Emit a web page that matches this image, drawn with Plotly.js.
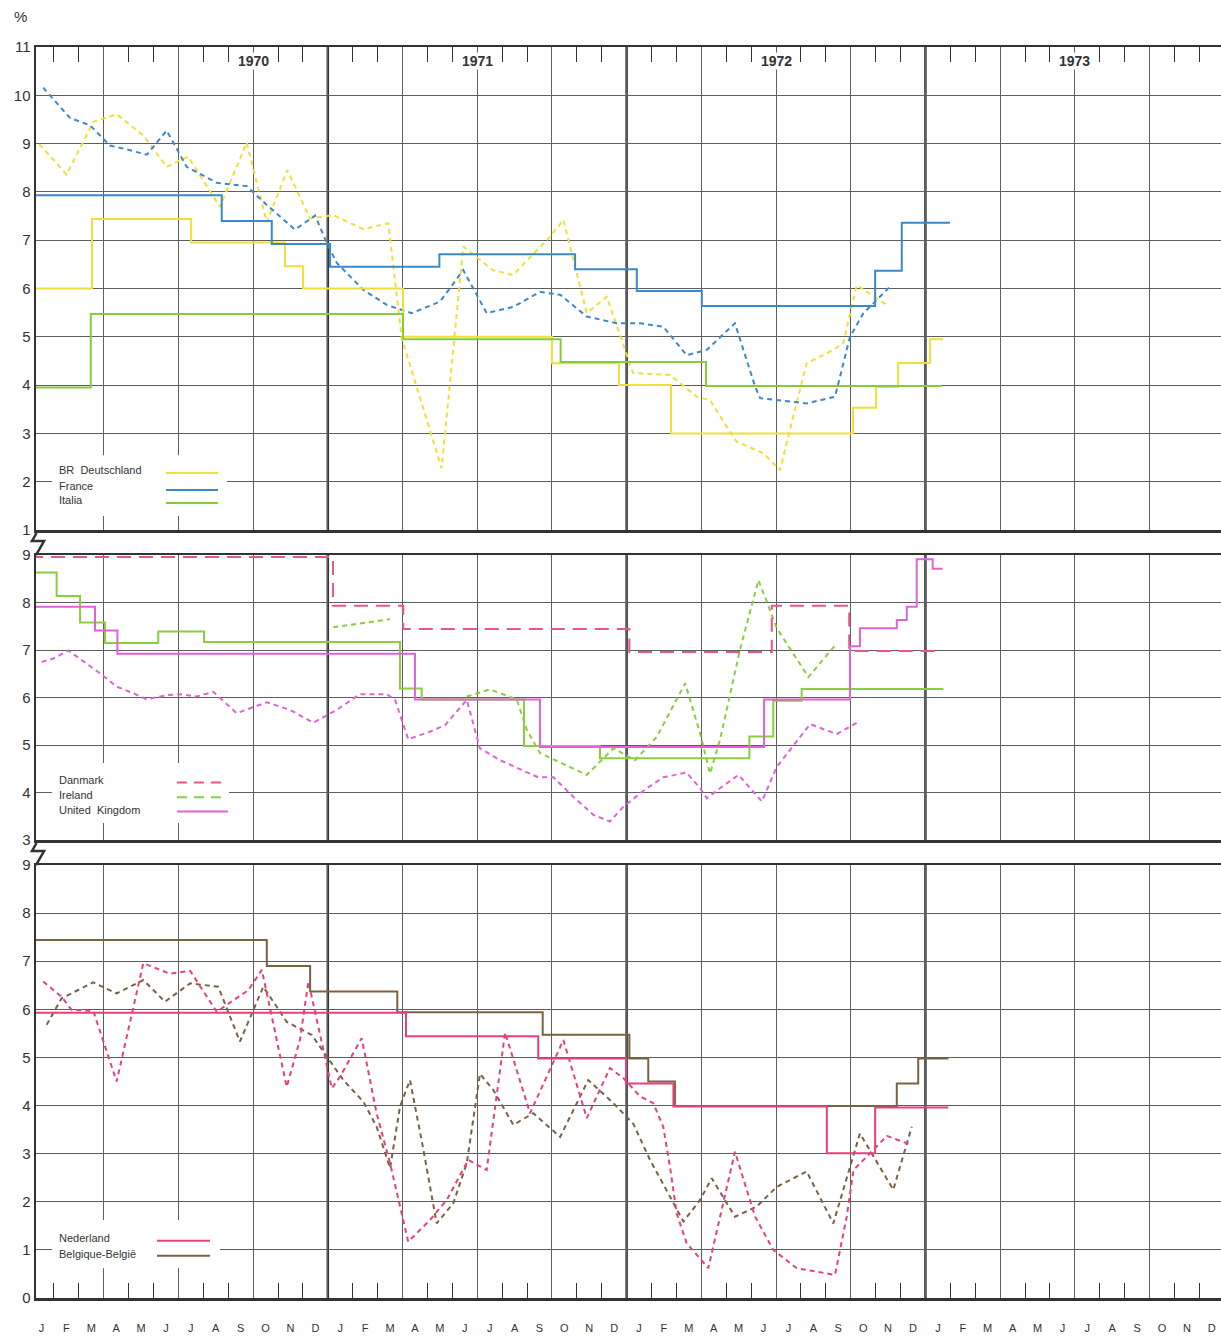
<!DOCTYPE html>
<html>
<head>
<meta charset="utf-8">
<script src="https://cdn.plot.ly/plotly-3.0.1.min.js"></script>
<style>html,body{margin:0;padding:0;background:#fff;}#chart{width:1221px;height:1337px;}</style>
</head>
<body>
<div id="chart"></div>
<script>
// ---------- DATA (x in months since Jan 1970, y in %) ----------
const monthLetters = ['J','F','M','A','M','J','J','A','S','O','N','D'];
const years = [1970, 1971, 1972, 1973];

// Panel 1: discount rates (steps)
const deDiscX = [0, 2.53, 6.51, 10.28, 11.0, 15.02, 21.0, 23.69, 25.78, 33.09, 34.02, 34.9, 36.18, 36.71];
const deDiscY = [6.0, 7.44, 6.95, 6.46, 6.0, 5.0, 4.45, 4.0, 3.0, 3.53, 3.96, 4.46, 4.95, 4.95];
const frDiscX = [0, 7.74, 9.75, 12.09, 16.48, 21.93, 24.41, 27.02, 33.98, 35.05, 36.99];
const frDiscY = [7.93, 7.40, 6.92, 6.45, 6.71, 6.40, 5.95, 5.64, 6.37, 7.36, 7.36];
const itDiscX = [0, 2.48, 15.02, 21.35, 27.19, 36.65];
const itDiscY = [3.95, 5.47, 4.95, 4.48, 3.98, 3.98];
// Panel 1: money market rates (dashed)
const deMktX = [0.41, 1.51, 2.58, 3.52, 4.59, 5.53, 6.39, 7.67, 8.74, 9.55, 10.37, 11.29, 12.21, 13.43, 14.43, 14.97, 16.57, 17.44, 18.63, 19.44, 20.92, 21.46, 22.4, 23.2, 24.26, 25.74, 26.82, 27.35, 28.02, 28.42, 29.49, 30.16, 30.69, 31.23, 32.3, 32.7, 33.24, 34.45];
const deMktY = [8.99, 8.36, 9.45, 9.61, 9.17, 8.52, 8.73, 7.69, 9.02, 7.37, 8.45, 7.45, 7.52, 7.23, 7.35, 4.97, 2.28, 6.87, 6.38, 6.28, 7.07, 7.42, 5.49, 5.83, 4.25, 4.21, 3.76, 3.69, 3.14, 2.83, 2.59, 2.24, 3.35, 4.45, 4.73, 4.87, 6.07, 5.66];
const frMktX = [0.57, 1.65, 2.45, 3.25, 3.92, 4.73, 5.53, 6.33, 7.54, 8.74, 9.55, 10.68, 11.49, 11.96, 12.36, 13.43, 14.37, 15.37, 16.51, 17.44, 18.38, 19.45, 20.52, 21.33, 22.4, 23.6, 24.54, 25.47, 26.41, 27.22, 28.35, 29.16, 29.36, 31.23, 32.37, 32.97, 33.51, 34.58];
const frMktY = [10.16, 9.53, 9.38, 8.96, 8.88, 8.77, 9.27, 8.52, 8.19, 8.12, 7.73, 7.22, 7.51, 6.94, 6.53, 5.97, 5.66, 5.49, 5.73, 6.38, 5.49, 5.62, 5.93, 5.87, 5.42, 5.28, 5.28, 5.21, 4.62, 4.73, 5.28, 3.97, 3.73, 3.62, 3.76, 5.0, 5.49, 6.04];

// Panel 2: discount rates (steps)
const dkDiscX = [0, 12.21, 15.03, 24.11, 29.83, 32.94, 36.65];
const dkDiscY = [8.96, 7.93, 7.44, 6.96, 7.93, 6.98, 6.98];
const ieDiscX = [0, 1.11, 2.05, 3.05, 5.19, 7.03, 14.9, 15.77, 19.88, 22.93, 28.93, 29.89, 31.03, 36.72];
const ieDiscY = [8.63, 8.14, 7.58, 7.15, 7.39, 7.17, 6.19, 5.96, 4.98, 4.72, 5.18, 5.93, 6.18, 6.18];
const ukDiscX = [0, 2.65, 3.55, 15.5, 20.52, 29.52, 32.97, 33.37, 34.85, 35.25, 35.65, 36.29, 36.69];
const ukDiscY = [7.91, 7.41, 6.92, 5.96, 4.96, 5.96, 7.08, 7.46, 7.63, 7.91, 8.91, 8.71, 8.71];
// Panel 2: money market rates (dashed)
const ieMktX = [12.22, 14.5, null, 17.58, 18.51, 19.59, 19.99, 20.52, 22.4, 22.93, 23.47, 24.34, 25.21, 26.35, 26.95, 27.35, 27.75, 28.55, 29.29, 29.63, 30.03, 31.3, 32.44];
const ieMktY = [7.48, 7.65, null, 6.02, 6.17, 5.96, 5.32, 4.83, 4.37, 4.65, 4.93, 4.68, 5.17, 6.30, 5.25, 4.40, 5.11, 7.0, 8.47, 8.02, 7.46, 6.43, 7.14];
const ukMktX = [0.51, 0.98, 1.58, 2.32, 2.85, 3.52, 4.19, 4.73, 5.53, 6.06, 6.73, 7.4, 8.34, 9.55, 10.48, 11.42, 12.36, 13.29, 14.37, 14.7, 15.23, 16.1, 16.71, 17.58, 18.11, 18.92, 19.85, 20.45, 21.06, 21.86, 22.66, 23.33, 23.87, 24.81, 25.47, 26.41, 26.95, 27.22, 27.75, 28.49, 29.43, 30.03, 31.37, 32.44, 33.31];
const ukMktY = [6.75, 6.82, 6.99, 6.72, 6.51, 6.23, 6.09, 5.96, 6.05, 6.07, 6.02, 6.12, 5.67, 5.90, 5.74, 5.47, 5.74, 6.07, 6.07, 5.95, 5.12, 5.28, 5.42, 5.95, 4.93, 4.68, 4.47, 4.32, 4.32, 3.91, 3.53, 3.39, 3.70, 4.09, 4.32, 4.42, 4.09, 3.88, 4.09, 4.37, 3.81, 4.54, 5.44, 5.23, 5.49];

// Panel 3: discount rates (steps)
const nlDiscX = [0, 15.14, 20.45, 23.98, 25.88, 32.04, 33.98, 36.92];
const nlDiscY = [5.93, 5.44, 4.98, 4.46, 3.98, 3.01, 3.96, 3.96];
const beDiscX = [0, 9.55, 11.29, 14.79, 20.63, 24.11, 24.87, 25.94, 34.85, 35.71, 36.92];
const beDiscY = [7.44, 6.90, 6.37, 5.94, 5.47, 4.98, 4.50, 3.99, 4.46, 4.98, 4.98];
// Panel 3: money market rates (dashed)
const nlMktX = [0.57, 1.31, 1.71, 2.58, 3.52, 4.59, 5.66, 6.47, 7.54, 8.81, 9.35, 10.35, 10.88, 11.22, 12.16, 12.49, 13.36, 13.96, 14.5, 15.23, 16.1, 16.78, 17.64, 18.38, 19.12, 20.12, 21.46, 22.4, 23.33, 23.87, 24.54, 25.07, 25.47, 25.74, 26.01, 26.41, 27.28, 28.35, 29.16, 29.89, 30.83, 32.37, 32.84, 33.11, 33.91, 34.45, 35.45];
const nlMktY = [6.58, 6.26, 5.99, 5.97, 4.50, 6.96, 6.74, 6.80, 5.95, 6.40, 6.82, 4.39, 5.36, 6.58, 4.36, 4.60, 5.40, 3.84, 2.80, 1.17, 1.62, 2.04, 2.87, 2.66, 5.52, 3.84, 5.36, 3.74, 4.78, 4.57, 4.19, 4.05, 3.56, 2.73, 1.76, 1.14, 0.62, 3.04, 1.69, 1.0, 0.62, 0.48, 1.69, 2.66, 3.08, 3.37, 3.18];
const beMktX = [0.71, 1.31, 2.58, 3.52, 4.59, 5.46, 6.47, 7.6, 8.47, 9.41, 10.35, 10.95, 11.35, 11.96, 12.62, 13.43, 13.96, 14.5, 14.9, 15.3, 15.84, 16.37, 17.04, 17.58, 18.11, 18.65, 19.45, 20.25, 21.33, 22.46, 23.47, 24.27, 24.94, 25.74, 26.28, 26.95, 27.42, 28.35, 29.22, 30.03, 31.23, 32.3, 33.37, 34.71, 35.45];
const beMktY = [5.68, 6.23, 6.56, 6.33, 6.61, 6.16, 6.54, 6.47, 5.33, 6.47, 5.74, 5.57, 5.47, 5.02, 4.53, 4.08, 3.56, 2.70, 3.98, 4.53, 3.08, 1.55, 1.97, 2.80, 4.66, 4.32, 3.60, 3.84, 3.35, 4.53, 4.05, 3.62, 2.87, 2.11, 1.59, 2.04, 2.49, 1.69, 1.90, 2.31, 2.63, 1.55, 3.42, 2.25, 3.56];

// ---------- STYLE ----------
const C = {
  de: '#f0df3a', fr: '#3d88c9', it: '#86cb3c',
  dk: '#e8558a', ie: '#8acd3e', uk: '#e063d6',
  nl: '#e8407c', be: '#7b6242'
};
const FONT = 'Liberation Sans, Arial, sans-serif';
const gridC = '#5e5e5e';
const axC = '#333333';
const R = [0.281, 47.87];
const SHORT = '5px,4px';
const LONG = '14px,8px';

function step(x, y, color, xa, ya, dash) {
  return {x, y, xaxis: xa, yaxis: ya, type: 'scatter', mode: 'lines',
    line: {shape: 'hv', color, width: 2, dash: dash || 'solid'},
    hoverinfo: 'skip', showlegend: false};
}
function mkt(x, y, color, xa, ya) {
  return {x, y, xaxis: xa, yaxis: ya, type: 'scatter', mode: 'lines', connectgaps: false,
    line: {color, width: 2, dash: SHORT}, hoverinfo: 'skip', showlegend: false};
}

const traces = [
  mkt(deMktX, deMktY, C.de, 'x3', 'y'),
  mkt(frMktX, frMktY, C.fr, 'x3', 'y'),
  step(deDiscX, deDiscY, C.de, 'x3', 'y'),
  step(frDiscX, frDiscY, C.fr, 'x3', 'y'),
  step(itDiscX, itDiscY, C.it, 'x3', 'y'),

  mkt(ieMktX, ieMktY, C.ie, 'x2', 'y2'),
  mkt(ukMktX, ukMktY, C.uk, 'x2', 'y2'),
  step(dkDiscX, dkDiscY, C.dk, 'x2', 'y2', LONG),
  step(ieDiscX, ieDiscY, C.ie, 'x2', 'y2'),
  step(ukDiscX, ukDiscY, C.uk, 'x2', 'y2'),

  mkt(beMktX, beMktY, C.be, 'x', 'y3'),
  mkt(nlMktX, nlMktY, C.nl, 'x', 'y3'),
  step(beDiscX, beDiscY, C.be, 'x', 'y3'),
  step(nlDiscX, nlDiscY, C.nl, 'x', 'y3'),
  {x: [], y: [], xaxis: 'x4', yaxis: 'y3', type: 'scatter', mode: 'lines', showlegend: false, hoverinfo: 'skip'}
];

// month labels (centres of months)
const mTickVals = [], mTickText = [];
years.forEach((yr, i) => monthLetters.forEach((m, j) => { mTickVals.push(i * 12 + j + 0.5); mTickText.push(m); }));

function xBase(anchor) {
  return {range: R, anchor, showgrid: true, gridcolor: gridC, gridwidth: 1,
    tickmode: 'linear', tick0: 0, dtick: 3, ticks: '', showticklabels: false,
    showline: true, linecolor: axC, linewidth: 2.5, mirror: true, zeroline: false, fixedrange: true};
}
const minorTicks = {tickmode: 'linear', tick0: 0, dtick: 1, ticks: 'inside', ticklen: 15, tickwidth: 1, tickcolor: axC, showgrid: false};
function yBase(domain, range, anchor) {
  return {domain, range, anchor, tickmode: 'linear', tick0: 0, dtick: 1, showgrid: true,
    gridcolor: gridC, gridwidth: 1, showline: true, linecolor: axC, linewidth: 2.5,
    ticks: '', zeroline: false, fixedrange: true,
    tickfont: {family: FONT, size: 15, color: '#333'}};
}

const shapes = [];
const annotations = [];
const panels = [['x3', 'y', [1, 11]], ['x2', 'y2', [3, 9]], ['x', 'y3', [0, 9]]];
// thick year boundaries (drawn beneath grid and data)
years.slice(1).forEach((yr, i) => {
  panels.forEach(([xa, ya, rg]) => shapes.push({type: 'line', layer: 'below', xref: xa, yref: ya,
    x0: (i + 1) * 12, x1: (i + 1) * 12, y0: rg[0], y1: rg[1], line: {color: axC, width: 2.5}}));
});

// legend boxes (mask grid) and samples
function legendBox(xa, ya, x0, x1, y0, y1) {
  shapes.push({type: 'rect', layer: 'above', xref: xa, yref: ya, x0, x1, y0, y1, fillcolor: '#ffffff', line: {width: 0}});
}
function legendLine(xa, ya, x0, x1, y, color, dash) {
  shapes.push({type: 'line', layer: 'above', xref: xa, yref: ya, x0, x1, y0: y, y1: y, line: {color, width: 2, dash: dash || 'solid'}});
}
function legendText(xa, ya, x, y, text) {
  annotations.push({xref: xa, yref: ya, x, y, text, showarrow: false, xanchor: 'left', yanchor: 'middle',
    font: {family: FONT, size: 11, color: '#333'}});
}
legendBox('x3', 'y', 0.92, 7.95, 1.29, 2.55);
legendText('x3', 'y', 1.12, 2.24, 'BR&nbsp;&nbsp;Deutschland');
legendText('x3', 'y', 1.12, 1.92, 'France');
legendText('x3', 'y', 1.12, 1.62, 'Italia');
legendLine('x3', 'y', 5.5, 7.59, 2.18, C.de);
legendLine('x3', 'y', 5.5, 7.59, 1.83, C.fr);
legendLine('x3', 'y', 5.5, 7.59, 1.56, C.it);

legendBox('x2', 'y2', 0.92, 8.03, 3.36, 4.62);
legendText('x2', 'y2', 1.12, 4.27, 'Danmark');
legendText('x2', 'y2', 1.12, 3.94, 'Ireland');
legendText('x2', 'y2', 1.12, 3.64, 'United&nbsp;&nbsp;Kingdom');
legendLine('x2', 'y2', 5.94, 7.99, 4.21, C.dk, '10px,7px');
legendLine('x2', 'y2', 5.94, 7.99, 3.90, C.ie, '10px,7px');
legendLine('x2', 'y2', 5.94, 7.99, 3.60, C.uk);

legendBox('x', 'y3', 0.92, 7.67, 0.62, 1.62);
legendText('x', 'y3', 1.12, 1.25, 'Nederland');
legendText('x', 'y3', 1.12, 0.91, 'Belgique-België');
legendLine('x', 'y3', 5.14, 7.27, 1.19, C.nl);
legendLine('x', 'y3', 5.14, 7.27, 0.88, C.be);

// year labels at top of panel 1
const yearLabelX = [9, 18, 30, 42];
years.forEach((yr, i) => annotations.push({xref: 'x3', yref: 'y', x: yearLabelX[i], y: 10.71, text: '<b>' + yr + '</b>',
  showarrow: false, bgcolor: '#ffffff', borderpad: 0, font: {family: FONT, size: 14, color: '#333'}}));

// % sign
annotations.push({xref: 'paper', yref: 'paper', x: -0.0135, y: 1.024, text: '%', showarrow: false,
  xanchor: 'center', yanchor: 'middle', font: {family: FONT, size: 15, color: '#333'}});

// axis break marks (paper coords)
function brk(yTop, yBot) {
  const fy = py => ((1298 - py) / 1251).toFixed(4), fx = px => ((px - 36) / 1185).toFixed(4);
  const p = 'M ' + fx(36) + ',' + fy(yTop) + ' L ' + fx(36) + ',' + fy(yTop + 4) + ' L ' + fx(32) + ',' + fy(yTop + 11) +
    ' L ' + fx(44) + ',' + fy(yTop + 11) + ' L ' + fx(36) + ',' + fy(yBot);
  shapes.push({type: 'path', xref: 'paper', yref: 'paper', path: p, line: {color: axC, width: 2.5}, layer: 'above'});
}
brk(530, 555);
brk(840, 865);

const layout = {
  width: 1221, height: 1337,
  margin: {l: 36, r: 0, t: 47, b: 39, pad: 0},
  paper_bgcolor: '#ffffff', plot_bgcolor: '#ffffff',
  showlegend: false,
  font: {family: FONT, color: '#333'},
  xaxis: Object.assign(xBase('y3'), {minor: minorTicks}),
  xaxis2: xBase('y2'),
  xaxis3: Object.assign(xBase('y'), {side: 'top', minor: minorTicks}),
  xaxis4: {range: R, overlaying: 'x', anchor: 'y3', side: 'bottom', tickmode: 'array',
    tickvals: mTickVals, ticktext: mTickText, ticks: '', showgrid: false, showline: false,
    zeroline: false, fixedrange: true, ticklabelstandoff: 22,
    tickfont: {family: FONT, size: 11, color: '#333'}},
  yaxis: yBase([0.6139, 1], [1, 11], 'x3'),
  yaxis2: yBase([0.3661, 0.5939], [3, 9], 'x2'),
  yaxis3: yBase([0, 0.3461], [0, 9], 'x'),
  shapes, annotations
};

Plotly.newPlot('chart', traces, layout, {staticPlot: true, displayModeBar: false});
</script>
</body>
</html>
